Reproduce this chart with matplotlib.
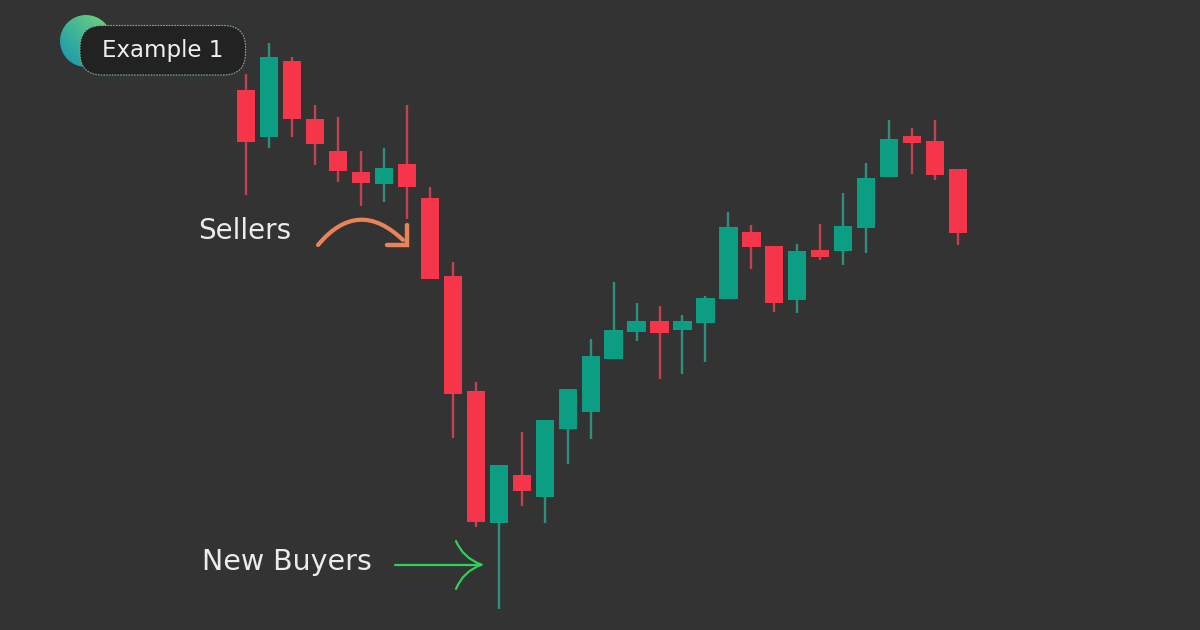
import numpy as np
import matplotlib
matplotlib.use("Agg")
import matplotlib.pyplot as plt
from matplotlib.patches import Circle, FancyBboxPatch, PathPatch
from matplotlib.path import Path

# candles, price = arbitrary units
opens = [539.7, 492.7, 568.7, 510.7, 478.7, 457.7, 445.7, 465.7, 432, 354.3, 239.3, 107,
         155.3, 133, 201.3, 218, 271, 298, 309, 300, 307.3, 331.3, 398.3, 384, 330,
         380.3, 378.7, 402, 453.3, 494, 489.3, 460.7]
closes = [488, 573.3, 510.7, 486.3, 459, 447, 462.3, 442.7, 351.3, 236.3, 108, 164.7,
          138.7, 210, 241, 274, 300, 309, 297, 309.3, 332, 403, 383.3, 327.3, 379,
          372.7, 404.3, 452, 491.3, 486.7, 455, 396.7]
highs = [556.3, 586.7, 573.3, 524.7, 512.7, 479, 481.7, 524.7, 443, 368.3, 248, 164.7,
         198, 210, 241, 291, 348.3, 327.3, 324, 315, 334.3, 418.3, 405, 384, 386,
         406, 437, 467, 510, 502, 510, 460.7]
lows = [434.7, 481.7, 492.7, 465.3, 448.3, 424, 427.7, 411, 351.3, 192, 102.7, 21,
        124, 107, 166.3, 191, 271, 289.3, 251, 256, 268, 331.3, 361, 318.3, 317,
        370, 365, 377, 453.3, 456, 450, 385]

labels = ["Sellers", "New Buyers"]
badge = "Example 1"

BG = "#333333"
UP = "#0b9e83"
DOWN = "#f5364a"
UP_WICK = "#2f8f7f"
DOWN_WICK = "#c2424f"
FONT = ["DejaVu Sans"]

fig = plt.figure(figsize=(12, 6.3), dpi=100, facecolor=BG)
ax = fig.add_axes([0, 0, 1, 1])
ax.set_facecolor(BG)
ax.set_xlim(-10.70, 41.52)
ax.set_ylim(0, 630)
ax.axis("off")

idx = np.arange(len(opens))
o = np.array(opens)
c = np.array(closes)
up = c > o
ax.vlines(idx, lows, highs, colors=[UP_WICK if u else DOWN_WICK for u in up], linewidth=1.7, zorder=2)
ax.bar(idx, c - o, bottom=o, width=0.79, color=[UP if u else DOWN for u in up], zorder=3)

# overlay in pixel space for the annotations
ov = fig.add_axes([0, 0, 1, 1])
ov.patch.set_alpha(0)
ov.axis("off")

# badge circle with gradient
grad = np.linspace(0, 1, 64)
gx, gy = np.meshgrid(grad, grad)
t = np.clip((gx + (1 - gy)) / 2, 0, 1)
c0 = np.array([0.07, 0.58, 0.70])
c1 = np.array([0.45, 0.84, 0.48])
img = c0 + (c1 - c0) * t[..., None]
im = ov.imshow(img, extent=(60, 112, 67, 15), aspect="auto", zorder=4)
circ = Circle((86, 41), 26, transform=ov.transData, fc="none", ec="none")
ov.add_patch(circ)
im.set_clip_path(circ)
ov.set_xlim(0, 1200)
ov.set_ylim(630, 0)

pill = FancyBboxPatch((80, 25.5), 165.5, 49.5, boxstyle="round,pad=0,rounding_size=22",
                      fc="#222222", ec="#7fae93", lw=0.8, ls=(0, (1.5, 1)), zorder=5)
ov.add_patch(pill)
ov.text(163, 50, badge, color="#efefef", fontsize=16.5, family=FONT, ha="center", va="center", zorder=6)

ov.text(198, 231, labels[0], color="#ececec", fontsize=20, family=FONT, ha="left", va="center")
ov.text(202, 562, labels[1], color="#ececec", fontsize=20.5, family=FONT, ha="left", va="center")

# orange curved arrow
ORANGE = "#e98358"
arc = Path([(318, 245), (358, 197), (403, 240)], [Path.MOVETO, Path.CURVE3, Path.CURVE3])
ov.add_patch(PathPatch(arc, fc="none", ec=ORANGE, lw=3, capstyle="round"))
head = Path([(407, 225), (407, 245), (387, 245)], [Path.MOVETO, Path.LINETO, Path.LINETO])
ov.add_patch(PathPatch(head, fc="none", ec=ORANGE, lw=3.2, capstyle="round", joinstyle="miter"))

# green arrow
GREEN = "#2fd158"
ov.plot([395, 481], [564.7, 564.7], color=GREEN, lw=1.6, solid_capstyle="round")
for end, ctrl in [((456, 541), (463, 558)), ((456, 589), (463, 571.4))]:
    p = Path([end, ctrl, (481.5, 564.7)], [Path.MOVETO, Path.CURVE3, Path.CURVE3])
    ov.add_patch(PathPatch(p, fc="none", ec=GREEN, lw=1.6, capstyle="round"))

fig.savefig("out.png", dpi=100, facecolor=BG)
